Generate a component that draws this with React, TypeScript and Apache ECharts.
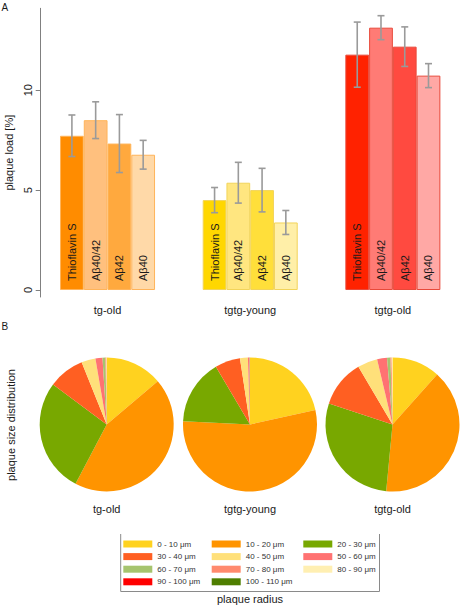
import React, { useEffect, useRef } from "react";
import * as echarts from "echarts";

// ---------- data ----------
const groups = ["tg-old", "tgtg-young", "tgtg-old"];
const stains = ["Thioflavin S", "Aβ40/42", "Aβ42", "Aβ40"];
// plaque load [%] per group (rows) and stain (columns)
const tgOldLoad = [7.72, 8.5, 7.33, 6.77];
const tgtgYoungLoad = [4.5, 5.37, 5.0, 3.38];
const tgtgOldLoad = [11.78, 13.13, 12.18, 10.73];
const tgOldErr = [1.04, 0.92, 1.45, 0.72];
const tgtgYoungErr = [0.63, 1.02, 1.09, 0.6];
const tgtgOldErr = [1.63, 0.6, 0.99, 0.6];
const yTicks = [0, 5, 10];

const radiusBins = [
  "0 - 10 μm", "10 - 20 μm", "20 - 30 μm", "30 - 40 μm", "40 - 50 μm", "50 - 60 μm",
  "60 - 70 μm", "70 - 80 μm", "80 - 90 μm", "90 - 100 μm", "100 - 110 μm",
];
const tgOldDist = [13.8, 43.9, 27.5, 8.7, 3.4, 1.7, 0.7, 0.2, 0.1, 0, 0];
const tgtgYoungDist = [21.5, 54.3, 15.7, 6.1, 1.9, 0.4, 0.1, 0, 0, 0, 0];
const tgtgOldDist = [11.6, 39.9, 28.6, 11.4, 4.8, 2.4, 0.8, 0.3, 0.2, 0, 0];

// ---------- styles ----------
const FONT = "Liberation Sans, Arial, Helvetica, sans-serif";
const barColors = [
  ["#FF8C00", "#FFC07E", "#FFA93E", "#FFD9A8"],
  ["#FFD700", "#FFE680", "#FFDF3A", "#FFEFA8"],
  ["#FF2200", "#FF7B75", "#FF4A40", "#FFA8A5"],
];
const barBorders = ["#FFB45A", "#F2D45A", "#E8493A"];
const binColors = [
  "#FFD21F", "#FF9400", "#78A800", "#FF5F22", "#FFE07A", "#FF7272",
  "#A6C46E", "#FF8A6E", "#FFEFB2", "#FF0000", "#4E7E00",
];

export default function App() {
  const ref = useRef<HTMLDivElement>(null);
  useEffect(() => {
    if (!ref.current) return;
    const chart = echarts.init(ref.current, undefined, { renderer: "svg" });
    const loads = [tgOldLoad, tgtgYoungLoad, tgtgOldLoad];
    const errs = [tgOldErr, tgtgYoungErr, tgtgOldErr];
    const dists = [tgOldDist, tgtgYoungDist, tgtgOldDist];
    const CAT_GAP = 0.334;

    const barSeries = stains.map((s, si) => ({
      type: "bar",
      name: s,
      barGap: "0%",
      barCategoryGap: (CAT_GAP * 100).toFixed(1) + "%",
      data: groups.map((g, gi) => ({
        value: loads[gi][si],
        itemStyle: { color: barColors[gi][si], borderColor: barBorders[gi], borderWidth: 1 },
      })),
      label: {
        show: true,
        position: "insideBottom",
        distance: 9,
        rotate: 90,
        align: "left",
        verticalAlign: "middle",
        formatter: s,
        fontSize: 11,
        fontFamily: FONT,
        color: "#1a1a1a",
      },
      emphasis: { disabled: true },
    }));

    const errData: number[][] = [];
    groups.forEach((g, gi) =>
      stains.forEach((s, si) => errData.push([gi, si, loads[gi][si], errs[gi][si]]))
    );

    const errSeries = {
      type: "custom",
      z: 5,
      encode: { x: 0, y: 2 },
      data: errData,
      renderItem: (params: any, api: any) => {
        const gi = api.value(0);
        const si = api.value(1);
        const m = api.value(2);
        const e = api.value(3);
        const c = api.coord([gi, m]);
        const bandW = api.size([1, 0])[0];
        const bw = (bandW * (1 - CAT_GAP)) / 4;
        const x = c[0] - 2 * bw + (si + 0.5) * bw;
        const top = api.coord([gi, m + e])[1];
        const bot = api.coord([gi, m - e])[1];
        const st = { stroke: "#9a9a9a", lineWidth: 1.6 };
        return {
          type: "group",
          children: [
            { type: "line", shape: { x1: x, y1: top, x2: x, y2: bot }, style: st },
            { type: "line", shape: { x1: x - 3.5, y1: top, x2: x + 3.5, y2: top }, style: st },
            { type: "line", shape: { x1: x - 3.5, y1: bot, x2: x + 3.5, y2: bot }, style: st },
          ],
        };
      },
    };

    const pieCenters = [106.7, 250, 392.5];
    const pieSeries = dists.map((d, pi) => ({
      type: "pie",
      center: [pieCenters[pi], 424.5],
      radius: 67,
      startAngle: 90,
      clockwise: true,
      label: { show: false },
      labelLine: { show: false },
      emphasis: { disabled: true },
      itemStyle: { borderWidth: 0, borderRadius: 0 },
      data: radiusBins.map((n, i) => ({ name: n, value: d[i], itemStyle: { color: binColors[i] } })),
    }));

    const legendCols = [
      [0, 3, 6, 9],
      [1, 4, 7, 10],
      [2, 5, 8],
    ];
    const legendLefts = [123.3, 211.7, 303.3];
    const legends = legendCols.map((col, ci) => ({
      orient: "vertical",
      left: legendLefts[ci],
      top: 539,
      padding: 0,
      itemWidth: 29,
      itemHeight: 7,
      itemGap: 2.6,
      icon: "rect",
      selectedMode: false,
      itemStyle: { borderWidth: 0 },
      textStyle: { fontSize: 8, lineHeight: 10, fontFamily: FONT, color: "#333" },
      data: col.map((i) => radiusBins[i]),
    }));

    const txt = (text: string, x: number, y: number, size: number, rot = 0, align = "center") => ({
      type: "text",
      x,
      y,
      rotation: rot,
      style: {
        text,
        fontSize: size,
        fontFamily: FONT,
        fill: "#1a1a1a",
        textAlign: align,
        textVerticalAlign: "middle",
      },
    });

    chart.setOption({
      animation: false,
      backgroundColor: "#ffffff",
      textStyle: { fontFamily: FONT },
      grid: {
        left: 36.2,
        top: 8.3,
        width: 428,
        height: 288.7,
        containLabel: false,
        outerBoundsMode: "none",
      },
      xAxis: {
        type: "category",
        data: groups,
        axisLine: { show: false, onZero: false },
        axisTick: { show: false },
        splitLine: { show: false },
        axisLabel: { fontSize: 11, color: "#1a1a1a", margin: 7, fontFamily: FONT },
      },
      yAxis: {
        type: "value",
        min: -0.35,
        max: 14.1,
        offset: -4.5,
        splitLine: { show: false },
        axisLine: { show: true, lineStyle: { color: "#808080", width: 1 } },
        axisTick: { show: true, length: 5, customValues: yTicks, lineStyle: { color: "#808080" } },
        axisLabel: {
          customValues: yTicks,
          rotate: 90,
          fontSize: 11,
          margin: 7,
          color: "#1a1a1a",
          fontFamily: FONT,
        },
        name: "plaque load [%]",
        nameLocation: "middle",
        nameGap: 23,
        nameTextStyle: { fontSize: 11, color: "#1a1a1a", fontFamily: FONT },
      },
      legend: legends,
      series: [...barSeries, errSeries, ...pieSeries],
      graphic: [
        txt("A", 1.5, 7, 10, 0, "left"),
        txt("B", 1.5, 326, 10, 0, "left"),
        txt("plaque size distribution", 11, 425, 11, Math.PI / 2),
        ...groups.map((g, i) => txt(g, pieCenters[i], 509, 11)),
        txt("plaque radius", 250, 599, 11),
        {
          type: "polyline",
          shape: { points: [[120.7, 534], [120.7, 591.5], [379.5, 591.5], [379.5, 534]] },
          style: { stroke: "#8a8a8a", lineWidth: 1, fill: "none" },
        },
      ],
    });
    return () => chart.dispose();
  }, []);
  return (
    <div
      ref={ref}
      style={{ position: "fixed", left: 0, top: 0, width: 462, height: 609, background: "#fff" }}
    />
  );
}
